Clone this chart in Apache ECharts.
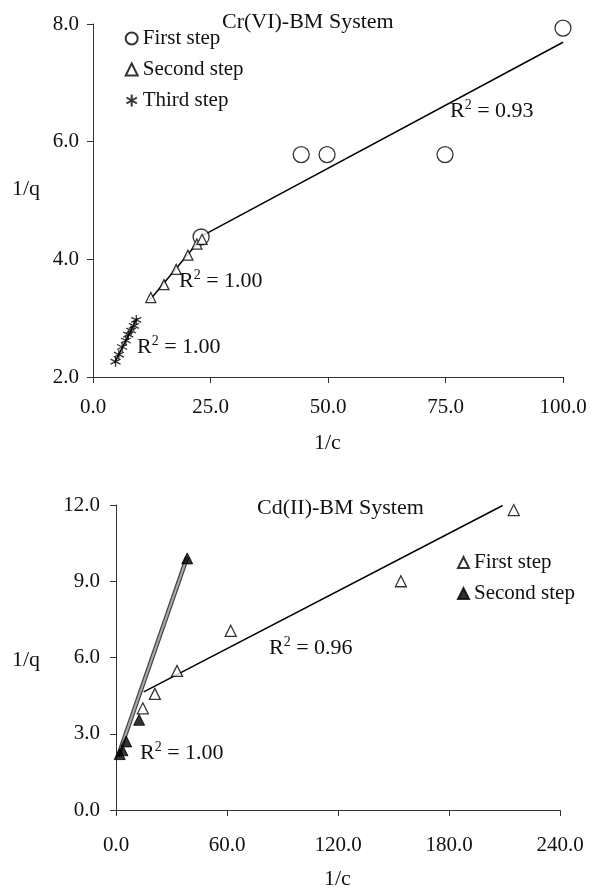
<!DOCTYPE html>
<html><head><meta charset="utf-8">
<script src="https://cdn.jsdelivr.net/npm/echarts@6/dist/echarts.min.js"></script>
<style>html,body{margin:0;padding:0;background:#fff}#c{width:592px;height:889px}</style>
</head><body><div id="c"></div>
<script>
// ---- Cr(VI)-BM System ----
const crFirstX  = [23.0, 44.3, 49.8, 74.9, 100.0];
const crFirstY  = [4.38, 5.78, 5.78, 5.78, 7.93];
const crSecondX = [12.3, 15.1, 17.7, 20.2, 22.1, 23.2];
const crSecondY = [3.35, 3.57, 3.83, 4.07, 4.26, 4.34];
const crThirdX  = [4.8, 5.5, 6.2, 7.0, 7.5, 8.1, 8.7, 9.2];
const crThirdY  = [2.26, 2.38, 2.51, 2.62, 2.72, 2.79, 2.87, 2.97];
const crFit1X = [23.2, 100.0], crFit1Y = [4.40, 7.69];
const crFit2X = [12.0, 23.5],  crFit2Y = [3.30, 4.40];
const crFit3X = [4.6, 9.4],    crFit3Y = [2.24, 3.00];
const crXTicks = [0, 25, 50, 75, 100];
const crYTicks = [2, 4, 6, 8];

// ---- Cd(II)-BM System ----
const cdFirstX  = [14.5, 21.0, 33.0, 62.0, 154.0, 215.0];
const cdFirstY  = [4.00, 4.57, 5.47, 7.05, 9.00, 11.80];
const cdSecondX = [2.0, 3.5, 5.5, 12.5, 38.5];
const cdSecondY = [2.20, 2.35, 2.70, 3.55, 9.90];
const cdFit1X = [15.0, 209.0], cdFit1Y = [4.65, 11.98];
const cdFit2X = [1.0, 38.5],   cdFit2Y = [2.10, 9.95];
const cdXTicks = [0, 60, 120, 180, 240];
const cdYTicks = [0, 3, 6, 9, 12];

const FONT = '"Liberation Serif", "Times New Roman", serif';
const zip = (xs, ys) => xs.map((x, i) => [x, ys[i]]);
const ASTER = 'path://M5,0L5,10M0.67,2.5L9.33,7.5M9.33,2.5L0.67,7.5';

function axisCommon(extra, margin) {
  return Object.assign({
    type: 'value',
    splitLine: { show: false },
    axisLine: { show: true, onZero: false, lineStyle: { color: '#333', width: 1 } },
    axisTick: { show: true, inside: false, length: 6, lineStyle: { color: '#333' } },
    axisLabel: { color: '#111', fontFamily: FONT, fontSize: 21, margin: margin, formatter: v => v.toFixed(1) }
  }, extra);
}

const openStyle = { color: '#fff', borderColor: '#000', borderWidth: 1.3 };
const fitLine = (xi, yi, xs, ys, extra) => Object.assign({
  type: 'line', xAxisIndex: xi, yAxisIndex: yi, data: zip(xs, ys),
  symbol: 'none', silent: true, z: 1,
  lineStyle: { color: '#000', width: 1.5 }
}, extra || {});

function r2(text, x, y) {
  return {
    type: 'text', left: x, top: y,
    style: {
      text: '{a|R}{s|2}{a| = ' + text + '}',
      rich: {
        a: { fontFamily: FONT, fontSize: 22, fill: '#111', color: '#111' },
        s: { fontFamily: FONT, fontSize: 14, fill: '#111', color: '#111', padding: [0, 0, 12, 0] }
      }
    }
  };
}
function txt(text, x, y) {
  return { type: 'text', left: x, top: y, style: { text, font: '22px ' + FONT, fill: '#111' } };
}

const chart = echarts.init(document.getElementById('c'), null, { renderer: 'canvas' });
chart.setOption({
  backgroundColor: '#fff',
  animation: false,
  grid: [
    { left: 93, top: 24, width: 470, height: 353 },
    { left: 116, top: 505, width: 444, height: 305 }
  ],
  xAxis: [
    axisCommon({ gridIndex: 0, min: crXTicks[0], max: crXTicks[crXTicks.length - 1], interval: crXTicks[1] - crXTicks[0] }, 20),
    axisCommon({ gridIndex: 1, min: cdXTicks[0], max: cdXTicks[cdXTicks.length - 1], interval: cdXTicks[1] - cdXTicks[0] }, 25)
  ],
  yAxis: [
    axisCommon({ gridIndex: 0, min: crYTicks[0], max: crYTicks[crYTicks.length - 1], interval: crYTicks[1] - crYTicks[0] }, 14),
    axisCommon({ gridIndex: 1, min: cdYTicks[0], max: cdYTicks[cdYTicks.length - 1], interval: cdYTicks[1] - cdYTicks[0] }, 16)
  ],
  legend: [
    {
      orient: 'vertical', left: 119, top: 23, itemGap: 10, itemWidth: 12, itemHeight: 12,
      textStyle: { fontFamily: FONT, fontSize: 21, color: '#111' },
      data: [
        { name: 'First step', icon: 'circle' },
        { name: 'Second step', icon: 'triangle' },
        { name: 'Third step', icon: ASTER }
      ]
    },
    {
      orient: 'vertical', left: 452, top: 547, itemGap: 10, itemWidth: 11, itemHeight: 11,
      textStyle: { fontFamily: FONT, fontSize: 21, color: '#111' },
      formatter: n => n.replace('Cd ', ''),
      data: [
        { name: 'Cd First step', icon: 'triangle' },
        { name: 'Cd Second step', icon: 'triangle' }
      ]
    }
  ],
  series: [
    fitLine(0, 0, crFit1X, crFit1Y),
    fitLine(0, 0, crFit2X, crFit2Y),
    fitLine(0, 0, crFit3X, crFit3Y),
    fitLine(1, 1, cdFit1X, cdFit1Y),
    fitLine(1, 1, cdFit2X, cdFit2Y, { lineStyle: { color: '#444', width: 4.5 } }),
    fitLine(1, 1, cdFit2X, cdFit2Y, { z: 2, lineStyle: { color: '#aaa', width: 2 } }),
    { name: 'First step', type: 'scatter', xAxisIndex: 0, yAxisIndex: 0, z: 3,
      symbol: 'circle', symbolSize: 16, itemStyle: openStyle, data: zip(crFirstX, crFirstY) },
    { name: 'Second step', type: 'scatter', xAxisIndex: 0, yAxisIndex: 0, z: 3,
      symbol: 'triangle', symbolSize: 10, itemStyle: openStyle, data: zip(crSecondX, crSecondY) },
    { name: 'Third step', type: 'scatter', xAxisIndex: 0, yAxisIndex: 0, z: 3,
      symbol: ASTER, symbolSize: 10, itemStyle: { color: 'none', borderColor: '#000', borderWidth: 1.3 },
      data: zip(crThirdX, crThirdY) },
    { name: 'Cd First step', type: 'scatter', xAxisIndex: 1, yAxisIndex: 1, z: 3,
      symbol: 'triangle', symbolSize: 11, itemStyle: openStyle, data: zip(cdFirstX, cdFirstY) },
    { name: 'Cd Second step', type: 'scatter', xAxisIndex: 1, yAxisIndex: 1, z: 3,
      symbol: 'triangle', symbolSize: 11, itemStyle: { color: '#000', borderColor: '#000', borderWidth: 1 },
      data: zip(cdSecondX, cdSecondY) }
  ],
  graphic: [
    txt('Cr(VI)-BM System', 222, 11),
    txt('1/q', 12, 178),
    txt('1/c', 314, 432),
    r2('0.93', 450, 98),
    r2('1.00', 179, 268),
    r2('1.00', 137, 334),
    txt('Cd(II)-BM System', 257, 497),
    txt('1/q', 12, 649),
    txt('1/c', 324, 868),
    r2('0.96', 269, 635),
    r2('1.00', 140, 740)
  ]
});
</script></body></html>
